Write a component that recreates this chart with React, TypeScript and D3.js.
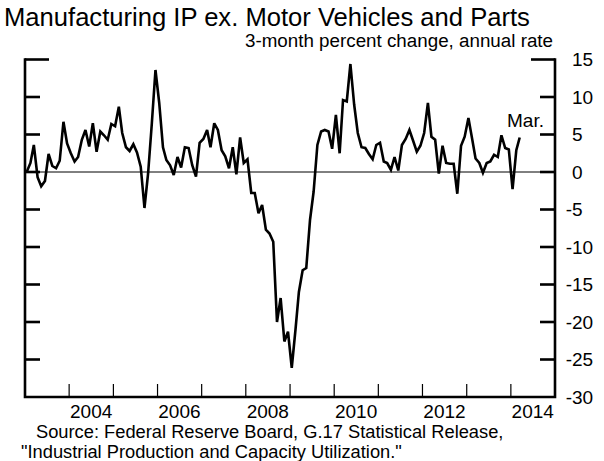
import * as d3 from "d3";

const width = 604;
const height = 461;
const margin = { top: 59.5, right: 49, bottom: 64, left: 25 };

// 3-month percent change, annual rate; monthly, Jan 2003 - Mar 2014
const y2003 = [0.0, 1.2, 3.6, -0.7, -1.9, -1.2, 2.4, 0.8, 0.5, 1.5, 6.7, 3.8];
const y2004 = [2.5, 1.4, 2.0, 4.3, 5.6, 3.4, 6.5, 2.7, 5.4, 4.9, 4.3, 6.4];
const y2005 = [6.1, 8.7, 5.2, 3.3, 2.8, 3.7, 2.6, 0.7, -4.8, -0.2, 6.5, 13.6];
const y2006 = [9.2, 3.3, 1.6, 0.9, -0.4, 2.0, 0.6, 3.3, 3.2, 0.9, -0.6, 3.9];
const y2007 = [4.4, 5.6, 3.3, 6.5, 5.6, 2.9, 2.1, 0.5, 3.3, -0.3, 4.6, 1.2];
const y2008 = [1.7, -2.8, -2.8, -5.5, -4.4, -7.7, -8.2, -9.3, -20.0, -16.8, -22.6, -21.3];
const y2009 = [-26.1, -21.0, -16.0, -13.1, -12.8, -6.4, -2.6, 3.6, 5.4, 5.6, 5.4, 3.1];
const y2010 = [7.6, 2.5, 9.6, 9.4, 14.4, 9.0, 5.2, 3.3, 3.2, 2.4, 1.7, 3.6];
const y2011 = [3.9, 1.4, 1.2, 0.3, 2.0, 0.2, 3.6, 4.4, 5.6, 4.2, 2.7, 3.5];
const y2012 = [5.2, 9.2, 4.7, 4.3, -0.2, 3.5, 1.2, 1.1, 1.1, -2.9, 3.5, 4.7];
const y2013 = [7.2, 4.4, 1.8, 1.2, -0.1, 1.2, 1.4, 2.3, 2.0, 4.9, 3.2, 3.0];
const y2014 = [-2.3, 2.9, 4.6];

const years = [y2003, y2004, y2005, y2006, y2007, y2008, y2009, y2010, y2011, y2012, y2013, y2014];
const yTicks = [15, 10, 5, 0, -5, -10, -15, -20, -25, -30];
const yearTicks = [2004, 2005, 2006, 2007, 2008, 2009, 2010, 2011, 2012, 2013, 2014];
const yearLabels = [2004, 2006, 2008, 2010, 2012, 2014];

const font = "'Liberation Sans', Arial, Helvetica, sans-serif";

type Pt = { date: Date; value: number };

export default function App() {
  const data: Pt[] = years.flatMap((vals, i) =>
    vals.map((v, m) => ({ date: new Date(2003 + i, m, 15), value: v }))
  );

  const x = d3.scaleTime()
    .domain([new Date(2003, 0, 1), new Date(2015, 0, 1)])
    .range([margin.left, width - margin.right]);
  const y = d3.scaleLinear()
    .domain([-30, 15])
    .range([height - margin.bottom, margin.top]);

  const line = d3.line<Pt>()
    .x(d => x(d.date))
    .y(d => y(d.value));

  const x0 = margin.left;
  const x1 = width - margin.right;

  return (
    <div style={{ position: "absolute", left: 0, top: 0 }}>
      <svg width={width} height={height} style={{ display: "block" }} fontFamily={font}>
        <rect width={width} height={height} fill="#fff" />
        <text x={4} y={26} fontSize={25.6}>Manufacturing IP ex. Motor Vehicles and Parts</text>
        <text x={x1 - 2} y={46.5} fontSize={18.8} textAnchor="end">3-month percent change, annual rate</text>

        {/* zero line */}
        <line x1={x0} x2={x1} y1={y(0)} y2={y(0)} stroke="#000" strokeWidth={1} />

        {/* y ticks on both sides */}
        {yTicks.filter(t => t > -30).map(t => {
          const len = t === 15 ? 24 : 15;
          return (
            <g key={t}>
              <line x1={x0} x2={x0 + len} y1={y(t)} y2={y(t)} stroke="#000" strokeWidth={2.6} />
              <line x1={x1 - len} x2={x1} y1={y(t)} y2={y(t)} stroke="#000" strokeWidth={2.6} />
            </g>
          );
        })}
        {yTicks.map(t => (
          <text key={"l" + t} x={t < 0 ? 565.7 : 572} y={y(t)} fontSize={19} dominantBaseline="central">
            {t}
          </text>
        ))}

        {/* x ticks */}
        {yearTicks.map(yr => {
          const px = x(new Date(yr, 0, 1));
          return <line key={yr} x1={px} x2={px} y1={y(-30)} y2={y(-30) - 13} stroke="#000" strokeWidth={1.2} />;
        })}
        {yearLabels.map(yr => (
          <text key={yr} x={x(new Date(yr, 6, 1))} y={418} fontSize={19} textAnchor="middle">{yr}</text>
        ))}

        {/* frame: left, right, bottom */}
        <path
          d={`M${x0},${y(15) - 1.3}V${y(-30)}H${x1}V${y(15) - 1.3}`}
          fill="none" stroke="#000" strokeWidth={2.6}
        />

        <path d={line(data) ?? ""} fill="none" stroke="#000" strokeWidth={2.6} strokeLinejoin="miter" strokeMiterlimit={3} />

        <text x={507} y={127} fontSize={19}>Mar.</text>

        <text x={36} y={437.5} fontSize={18.3}>Source:  Federal Reserve Board, G.17 Statistical Release,</text>
        <text x={21} y={457.5} fontSize={18.3}>"Industrial Production and Capacity Utilization."</text>
      </svg>
    </div>
  );
}
